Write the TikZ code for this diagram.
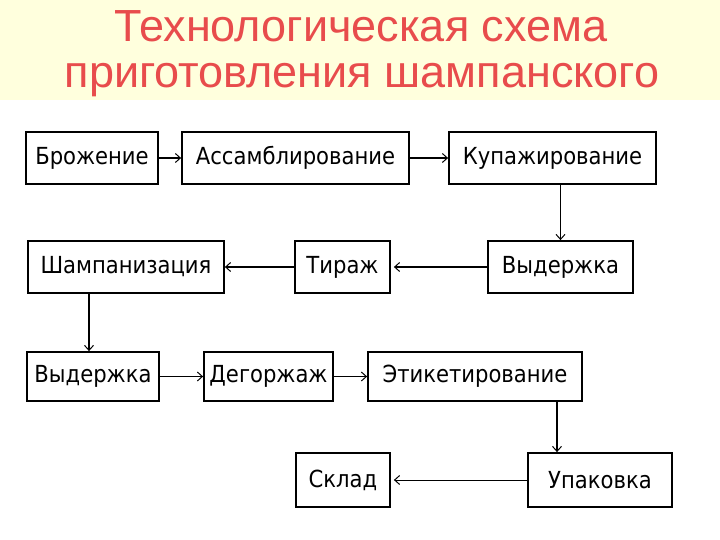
\documentclass[tikz,border=0pt]{standalone}
\usepackage{fontspec}
\setmainfont{Liberation Sans}
\newfontfamily\boxfont{DejaVu Sans Condensed}
\usetikzlibrary{arrows.meta}
\definecolor{titlebg}{RGB}{255,255,221}
\definecolor{titlered}{RGB}{232,76,76}
\begin{document}
\begin{tikzpicture}[x=1pt, y=-1pt,
        block/.style={draw, line width=1.8pt, inner sep=0pt, minimum height=52pt, font=\boxfont\fontsize{23.5}{28}\selectfont},
        flow/.style={line width=1.5pt, -{Straight Barb[length=5pt,width=9pt,line width=1pt]}}]
        \useasboundingbox (0, 0) rectangle (720, 540);
        \fill[titlebg] (0, 0) rectangle (720, 100);
        \node[anchor=base, text=titlered, font=\fontsize{45}{54}\selectfont] (title1) at (361, 42) {Технологическая схема};
        \node[anchor=base, text=titlered, font=\fontsize{45}{54}\selectfont] (title2) at (362, 88) {приготовления шампанского};

        \node[block, minimum width=132pt] (brozh) at (92, 158) {Брожение};
        \node[block, minimum width=227pt] (assam) at (295.5, 158) {Ассамблирование};
        \node[block, minimum width=207pt] (kupazh) at (552.5, 158) {Купажирование};
        \node[block, minimum width=145pt] (vyder1) at (560.5, 267) {Выдержка};
        \node[block, minimum width=95pt] (tirazh) at (342.5, 267) {Тираж};
        \node[block, minimum width=196pt] (shamp) at (126, 267) {Шампанизация};
        \node[block, minimum width=132pt, minimum height=49pt] (vyder2) at (93, 376.5) {Выдержка};
        \node[block, minimum width=129pt, minimum height=49pt] (degor) at (268.5, 376.5) {Дегоржаж};
        \node[block, minimum width=214pt, minimum height=49pt] (etiket) at (475, 376.5) {Этикетирование};
        \node[block, minimum width=144pt, minimum height=54pt] (upak) at (600, 480) {Упаковка};
        \node[block, minimum width=94pt, minimum height=54pt] (sklad) at (343, 480) {Склад};

        \draw[flow] (brozh) -- (assam);
        \draw[flow] (assam) -- (kupazh);
        \draw[flow, line width=1pt] (kupazh.south -| vyder1.north) -- (vyder1.north);
        \draw[flow, shorten >=3pt] (vyder1) -- (tirazh);
        \draw[flow] (tirazh) -- (shamp);
        \draw[flow] ([xshift=-37pt]shamp.south) -- ([xshift=-37pt]shamp.south |- vyder2.north);
        \draw[flow] (vyder2) -- (degor);
        \draw[flow] (degor) -- (etiket);
        \draw[flow, line width=2pt] ([xshift=82pt]etiket.south) -- ([xshift=82pt]etiket.south |- upak.north);
        \draw[flow, line width=0.9pt, shorten >=3pt] (upak) -- (sklad);
\end{tikzpicture}
\end{document}
